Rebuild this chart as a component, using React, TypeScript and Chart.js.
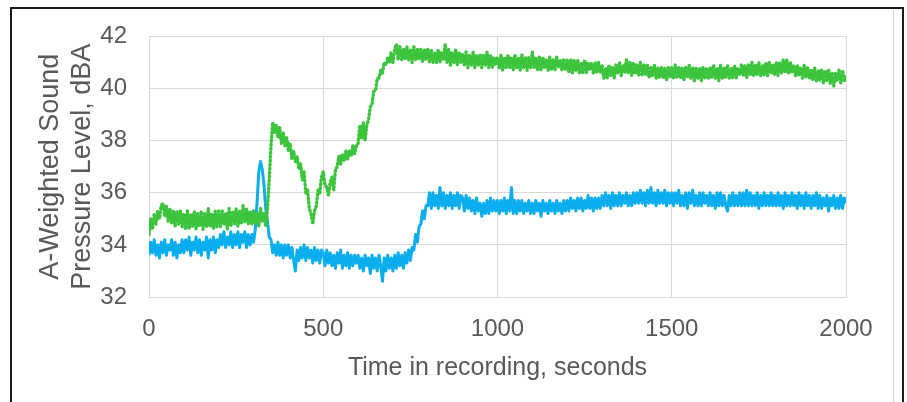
import React, { useEffect, useRef } from "react";
import { Chart, registerables } from "chart.js";

Chart.register(...registerables);

// Sampling interval of the readings (seconds)
const TIME_STEP_S = 5;

const X_TICKS = [0, 500, 1000, 1500, 2000];
const Y_TICKS = [32, 34, 36, 38, 40, 42];

const X_TITLE = "Time in recording, seconds";
const Y_TITLE = ["A-Weighted Sound", "Pressure Level, dBA"];

// Blue series, one value every 5 s from 0 to 2000 s (rows of 100 s)
const BLUE = [
  33.6, 34.1, 33.7, 34.2, 33.6, 34.0, 33.5, 34.1, 33.7, 34.2, 33.6, 34.0, 33.8, 34.2, 33.6, 34.1, 33.5, 34.0, 33.7, 34.2,
  33.7, 34.2, 33.8, 34.3, 33.6, 34.1, 33.8, 34.3, 33.7, 34.2, 33.6, 34.1, 33.8, 34.3, 33.5, 34.2, 33.8, 34.3, 33.7, 34.2,
  33.9, 34.4, 34.0, 34.5, 33.9, 34.3, 34.0, 34.5, 33.9, 34.4, 34.0, 34.5, 33.9, 34.4, 34.1, 34.5, 33.9, 34.4, 34.0, 34.4,
  34.1, 34.6, 35.6, 36.8, 37.2, 36.9, 36.3, 35.4, 34.9, 34.3, 34.2, 33.7, 34.0, 33.6, 34.1, 33.6, 34.0, 33.5, 34.0, 33.6,
  34.0, 33.5, 33.9, 33.4, 33.0, 33.8, 33.4, 33.9, 33.5, 34.0, 33.4, 33.9, 33.5, 33.8, 33.3, 33.9, 33.4, 33.8, 33.3, 33.8,
  33.7, 33.2, 33.8, 33.3, 33.7, 33.2, 33.6, 33.1, 33.7, 33.3, 33.8, 33.1, 33.6, 33.2, 33.7, 33.1, 33.6, 33.2, 33.6, 33.3,
  33.6, 33.1, 33.5, 33.0, 33.6, 33.2, 33.5, 32.9, 33.6, 33.1, 33.5, 33.0, 33.6, 33.2, 32.6, 33.5, 33.0, 33.6, 33.1, 33.5,
  33.0, 33.6, 33.1, 33.7, 33.2, 33.6, 33.1, 33.7, 33.3, 33.8, 33.4, 33.9, 33.8, 34.4, 34.1, 34.7, 34.8, 35.3, 35.0, 35.5,
  35.5, 36.0, 35.4, 36.0, 35.5, 35.9, 35.4, 36.2, 35.5, 36.0, 35.4, 35.9, 35.5, 36.0, 35.4, 35.9, 35.5, 36.0, 35.4, 35.9,
  35.8, 35.3, 35.9, 35.4, 35.8, 35.3, 35.7, 35.2, 35.8, 35.3, 35.6, 35.1, 35.6, 35.2, 35.7, 35.2, 35.8, 35.3, 35.7, 35.3,
  35.7, 35.2, 35.7, 35.3, 35.8, 35.2, 35.7, 35.3, 36.2, 35.2, 35.7, 35.2, 35.7, 35.3, 35.7, 35.2, 35.6, 35.3, 35.7, 35.2,
  35.6, 35.2, 35.7, 35.3, 35.6, 35.1, 35.7, 35.3, 35.6, 35.2, 35.7, 35.3, 35.6, 35.2, 35.7, 35.3, 35.6, 35.2, 35.7, 35.3,
  35.7, 35.3, 35.8, 35.4, 35.7, 35.3, 35.8, 35.4, 35.8, 35.3, 35.7, 35.4, 35.9, 35.4, 35.8, 35.3, 35.8, 35.4, 35.8, 35.4,
  35.9, 35.5, 36.0, 35.5, 35.9, 35.4, 36.0, 35.5, 35.9, 35.5, 36.0, 35.5, 35.9, 35.6, 36.0, 35.5, 35.9, 35.5, 36.0, 35.6,
  36.0, 35.6, 36.1, 35.6, 36.0, 35.5, 36.1, 35.6, 36.2, 35.6, 36.0, 35.5, 36.1, 35.6, 36.0, 35.6, 36.1, 35.5, 36.0, 35.6,
  36.0, 35.5, 36.0, 35.6, 36.1, 35.5, 35.9, 35.5, 36.0, 35.4, 36.0, 35.6, 36.1, 35.5, 35.9, 35.5, 36.0, 35.5, 36.0, 35.6,
  35.9, 35.5, 36.0, 35.5, 35.9, 35.4, 36.0, 35.5, 36.0, 35.5, 35.9, 35.5, 35.3, 35.9, 35.5, 36.0, 35.5, 35.9, 35.5, 36.0,
  35.5, 36.0, 35.5, 36.1, 35.5, 36.0, 35.5, 35.9, 35.5, 36.0, 35.4, 35.9, 35.5, 36.0, 35.5, 35.9, 35.5, 36.0, 35.5, 35.9,
  35.5, 36.0, 35.5, 35.9, 35.4, 36.0, 35.5, 35.9, 35.5, 36.0, 35.5, 35.9, 35.4, 36.0, 35.5, 35.9, 35.4, 36.0, 35.5, 35.9,
  35.4, 35.9, 35.5, 36.0, 35.4, 35.9, 35.4, 35.8, 35.5, 35.9, 35.3, 35.8, 35.5, 35.9, 35.4, 35.8, 35.4, 35.9, 35.4, 35.8,
  35.6,
];

// Green series, one value every 5 s from 0 to 2000 s (rows of 100 s)
const GREEN = [
  34.4, 35.0, 34.6, 35.2, 34.8, 35.3, 35.0, 35.5, 35.6, 35.1, 35.5, 34.9, 35.4, 34.8, 35.3, 34.7, 35.3, 34.8, 35.3, 34.7,
  35.2, 34.6, 35.3, 34.6, 35.2, 34.7, 35.3, 34.6, 35.2, 34.7, 35.3, 34.6, 35.2, 34.7, 35.4, 34.7, 35.2, 34.6, 35.3, 34.7,
  35.3, 34.7, 35.3, 34.8, 35.2, 34.6, 35.4, 34.7, 35.3, 34.8, 35.4, 34.7, 35.3, 34.8, 35.5, 34.9, 35.4, 34.8, 35.3, 34.8,
  35.3, 34.8, 35.2, 34.7, 35.4, 34.9, 35.2, 34.7, 35.4, 36.5, 37.8, 38.7, 38.3, 38.6, 38.1, 38.5, 37.9, 38.3, 37.8, 38.1,
  37.6, 37.9, 37.3, 37.6, 37.2, 37.4, 36.9, 37.1, 36.5, 36.8, 36.0, 36.1, 35.4, 35.2, 34.8, 35.3, 35.5, 36.1, 36.0, 36.6,
  36.8, 36.3, 36.2, 35.9, 36.4, 36.6, 36.1, 36.9, 37.0, 37.4, 37.1, 37.5, 37.2, 37.6, 37.3, 37.6, 37.4, 37.8, 37.5, 37.8,
  37.9, 38.6, 38.1, 38.7, 38.0, 38.6, 38.8, 39.3, 39.4, 39.9, 39.9, 40.4, 40.4, 40.7, 40.6, 41.0, 40.9, 41.2, 41.0, 41.4,
  41.0, 41.5, 41.7, 41.1, 41.6, 41.1, 41.5, 41.1, 41.6, 41.1, 41.5, 41.0, 41.6, 41.1, 41.5, 41.1, 41.5, 41.0, 41.5, 41.1,
  41.5, 41.0, 41.5, 41.0, 41.4, 41.0, 41.5, 41.0, 41.4, 41.1, 41.7, 41.0, 41.5, 40.9, 41.4, 41.0, 41.5, 40.9, 41.4, 41.0,
  41.3, 40.9, 41.4, 40.8, 41.3, 40.9, 41.4, 40.8, 41.3, 40.9, 41.3, 40.8, 41.3, 40.9, 41.4, 40.8, 41.3, 40.8, 41.2, 40.9,
  41.2, 40.8, 41.3, 40.7, 41.2, 40.8, 41.3, 40.8, 41.2, 40.7, 41.3, 40.8, 41.2, 40.7, 41.3, 40.8, 41.2, 40.7, 41.2, 40.8,
  41.4, 40.8, 41.2, 40.7, 41.2, 40.7, 41.2, 40.8, 41.1, 40.7, 41.2, 40.7, 41.1, 40.7, 41.2, 40.8, 41.1, 40.7, 41.1, 40.7,
  41.1, 40.6, 41.1, 40.6, 41.1, 40.7, 41.1, 40.6, 41.0, 40.6, 41.1, 40.6, 41.0, 40.7, 41.0, 40.6, 41.0, 40.6, 41.0, 40.6,
  40.9, 40.4, 40.8, 40.4, 40.9, 40.5, 40.8, 40.4, 40.9, 40.6, 41.0, 40.5, 40.9, 40.6, 41.1, 40.6, 41.0, 40.5, 41.0, 40.6,
  40.9, 40.5, 41.0, 40.5, 40.9, 40.5, 40.9, 40.4, 40.8, 40.5, 40.9, 40.4, 40.8, 40.4, 40.8, 40.4, 40.8, 40.3, 40.8, 40.4,
  40.8, 40.4, 40.9, 40.4, 40.8, 40.4, 40.8, 40.3, 40.8, 40.4, 40.9, 40.4, 40.8, 40.3, 40.8, 40.4, 40.8, 40.3, 40.8, 40.4,
  40.8, 40.4, 40.8, 40.4, 40.9, 40.4, 40.8, 40.3, 40.9, 40.4, 40.8, 40.4, 40.9, 40.4, 40.8, 40.4, 40.9, 40.4, 40.8, 40.5,
  40.9, 40.5, 40.9, 40.4, 40.9, 40.5, 41.0, 40.5, 40.9, 40.5, 41.0, 40.5, 40.9, 40.5, 41.0, 40.5, 41.0, 40.6, 40.9, 40.5,
  41.0, 40.5, 41.0, 40.6, 41.1, 40.6, 41.1, 40.6, 41.0, 40.6, 40.9, 40.5, 40.9, 40.5, 40.8, 40.4, 40.9, 40.4, 40.8, 40.4,
  40.7, 40.3, 40.8, 40.3, 40.7, 40.3, 40.7, 40.2, 40.7, 40.3, 40.7, 40.2, 40.6, 40.1, 40.6, 40.3, 40.7, 40.2, 40.7, 40.3,
  40.5,
];

const BLUE_COLOR = "#0AAEEF";
const GREEN_COLOR = "#3CC43C";
const GRID_COLOR = "#D9D9D9";
const TEXT_COLOR = "#595959";
const FONT_FAMILY = "'Liberation Sans', Arial, sans-serif";

const toPoints = (values: number[]) =>
  values.map((v, i) => ({ x: i * TIME_STEP_S, y: v }));

export default function App() {
  const canvasRef = useRef<HTMLCanvasElement | null>(null);

  useEffect(() => {
    const canvas = canvasRef.current;
    if (!canvas) return;
    const chart = new Chart(canvas, {
      type: "line",
      data: {
        datasets: [
          {
            label: "Green",
            data: toPoints(GREEN),
            borderColor: GREEN_COLOR,
            borderWidth: 3.4,
            borderDash: [1, 3],
            borderCapStyle: "round",
            borderJoinStyle: "round",
            pointRadius: 0,
            tension: 0,
          },
          {
            label: "Blue",
            data: toPoints(BLUE),
            borderColor: BLUE_COLOR,
            borderWidth: 3,
            borderJoinStyle: "round",
            pointRadius: 0,
            tension: 0,
          },
        ],
      },
      options: {
        animation: false,
        responsive: false,
        devicePixelRatio: 1,
        layout: { padding: { left: 0, right: 61, top: 35, bottom: 0 } },
        plugins: {
          legend: { display: false },
          tooltip: { enabled: false },
        },
        scales: {
          x: {
            type: "linear",
            min: X_TICKS[0],
            max: X_TICKS[X_TICKS.length - 1],
            afterFit: (scale: any) => {
              scale.height = 105;
            },
            afterBuildTicks: (scale: any) => {
              scale.ticks = X_TICKS.map((v) => ({ value: v }));
            },
            grid: { color: GRID_COLOR, lineWidth: 1, drawTicks: false },
            border: { color: GRID_COLOR, width: 1 },
            ticks: {
              color: TEXT_COLOR,
              padding: 18,
              font: { family: FONT_FAMILY, size: 24 },
              maxRotation: 0,
              callback: (v: any) => String(v),
            },
            title: {
              display: true,
              text: X_TITLE,
              color: TEXT_COLOR,
              font: { family: FONT_FAMILY, size: 25 },
              padding: { top: 0, bottom: 19 },
            },
          },
          y: {
            type: "linear",
            min: Y_TICKS[0],
            max: Y_TICKS[Y_TICKS.length - 1],
            afterFit: (scale: any) => {
              scale.width = 149;
            },
            afterBuildTicks: (scale: any) => {
              scale.ticks = Y_TICKS.map((v) => ({ value: v }));
            },
            grid: { color: GRID_COLOR, lineWidth: 1, drawTicks: false },
            border: { color: GRID_COLOR, width: 1 },
            ticks: {
              color: TEXT_COLOR,
              padding: 22,
              font: { family: FONT_FAMILY, size: 24 },
              callback: (v: any) => String(v),
            },
            title: {
              display: true,
              text: Y_TITLE,
              color: TEXT_COLOR,
              font: { family: FONT_FAMILY, size: 27, lineHeight: 1.2 },
              padding: { top: 34, bottom: 0 },
            },
          },
        },
      },
    });
    return () => chart.destroy();
  }, []);

  return (
    <div
      style={{
        position: "absolute",
        left: 0,
        top: 0,
        width: 907,
        height: 402,
        background: "#ffffff",
        overflow: "hidden",
      }}
    >
      <div
        style={{
          position: "absolute",
          left: 10,
          top: 7,
          width: 894,
          height: 420,
          border: "2px solid #1a1a1a",
          boxSizing: "border-box",
        }}
      />
      <div
        style={{
          position: "absolute",
          left: 893,
          top: 10,
          width: 1,
          height: 392,
          background: "#d4d4d4",
        }}
      />
      <canvas
        ref={canvasRef}
        width={907}
        height={402}
        style={{ position: "absolute", left: 0, top: 0 }}
      />
    </div>
  );
}
